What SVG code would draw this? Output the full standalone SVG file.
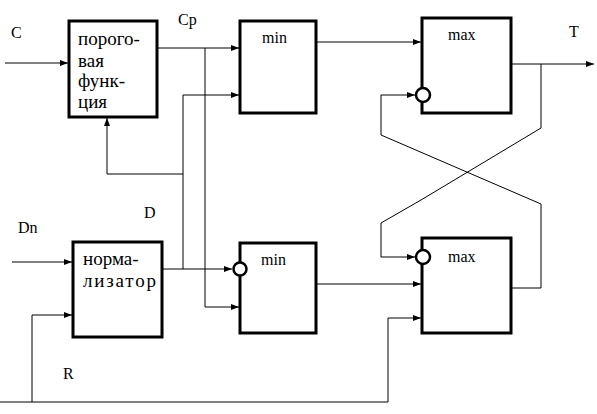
<svg xmlns="http://www.w3.org/2000/svg" width="597" height="414" viewBox="0 0 597 414">
<style>
.box{fill:#fff;stroke:#000;stroke-width:3}
.inv{fill:#fff;stroke:#000;stroke-width:2.5}
.w{fill:none;stroke:#000;stroke-width:1}
text{fill:#000}
</style>
<defs>
<marker id="a" markerWidth="9" markerHeight="7" refX="8" refY="3" orient="auto" markerUnits="userSpaceOnUse">
<path d="M0,0 L8,3 L0,6 z" fill="#000"/>
</marker>
</defs>
<rect width="597" height="414" fill="#fff"/>
<g id="connectors">
<path class="w" d="M5,63 H68" marker-end="url(#a)"/>
<path class="w" d="M157,48 H239" marker-end="url(#a)"/>
<path class="w" d="M205,48 V307 H239" marker-end="url(#a)"/>
<path class="w" d="M183,95 H239" marker-end="url(#a)"/>
<path class="w" d="M183,95 V269"/>
<path class="w" d="M183,174 H107 V118" marker-end="url(#a)"/>
<path class="w" d="M162,269 H232" marker-end="url(#a)"/>
<path class="w" d="M12,262 H72" marker-end="url(#a)"/>
<path class="w" d="M32,402 V315 H72" marker-end="url(#a)"/>
<path class="w" d="M0,402 H388 V318 H421" marker-end="url(#a)"/>
<path class="w" d="M316,42 H421" marker-end="url(#a)"/>
<path class="w" d="M316,284 H421" marker-end="url(#a)"/>
<path class="w" d="M511,64 H594" marker-end="url(#a)"/>
<path class="w" d="M541,64 V128 L421,200 L381,223 V257 H415" marker-end="url(#a)"/>
<path class="w" d="M511,288 H541 V204 L381,135 V95 H415" marker-end="url(#a)"/>
</g>
<g font-family="'Liberation Serif', 'DejaVu Serif', serif" font-size="16">
<g id="porog">
<rect class="box" x="69" y="21" width="88" height="96"/>
<text x="78" y="45" font-size="19">порого-</text>
<text x="78" y="67" font-size="19">вая</text>
<text x="78" y="87" font-size="19">функ-</text>
<text x="78" y="108" font-size="19">ция</text>
</g>
<g id="norm">
<rect class="box" x="73" y="242" width="89" height="95"/>
<text x="83" y="265" font-size="19">норма-</text>
<text x="83" y="287" font-size="19" textLength="73" lengthAdjust="spacing">лизатор</text>
</g>
<g id="min1">
<rect class="box" x="240" y="21" width="76" height="92"/>
<text x="262" y="43">min</text>
</g>
<g id="min2">
<rect class="box" x="240" y="243" width="76" height="90"/>
<circle class="inv" cx="240" cy="269" r="6.5"/>
<text x="261" y="265">min</text>
</g>
<g id="max1">
<rect class="box" x="422" y="18" width="89" height="95"/>
<circle class="inv" cx="423" cy="95" r="7"/>
<text x="448" y="40">max</text>
</g>
<g id="max2">
<rect class="box" x="422" y="238" width="89" height="95"/>
<circle class="inv" cx="423" cy="257" r="7"/>
<text x="448" y="262">max</text>
</g>
<g id="labels">
<text x="11" y="38">C</text>
<text x="178" y="25">Cp</text>
<text x="569" y="37">T</text>
<text x="144" y="218">D</text>
<text x="18" y="233">Dn</text>
<text x="63" y="379">R</text>
</g>
</g>
</svg>
